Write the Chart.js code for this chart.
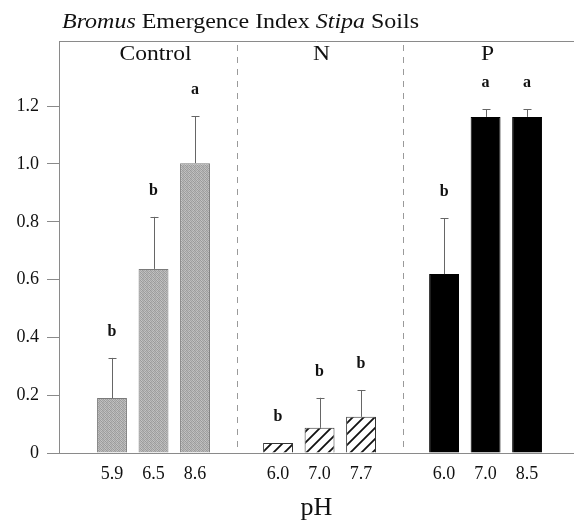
<!DOCTYPE html>
<html>
<head>
<meta charset="utf-8">
<script src="https://cdn.jsdelivr.net/npm/chart.js@4/dist/chart.umd.min.js"></script>
<style>
  html, body { margin: 0; padding: 0; background: #fff; overflow: hidden; }
  #wrap { width: 574px; height: 524px; position: relative; }
</style>
</head>
<body>
<div id="wrap"><canvas id="chart"></canvas></div>
<script>
// data
const groups = ['Control', 'N', 'P'];
const phLabels = [['5.9', '6.5', '8.6'], ['6.0', '7.0', '7.7'], ['6.0', '7.0', '8.5']];
const emergence = [[0.19, 0.637, 1.003], [0.035, 0.087, 0.125], [0.619, 1.163, 1.163]];
const stdErr = [[0.139, 0.18, 0.163], [0, 0.104, 0.093], [0.194, 0.027, 0.027]];
const letters = [['b', 'b', 'a'], ['b', 'b', 'b'], ['b', 'a', 'a']];
const yTicks = [0, 0.2, 0.4, 0.6, 0.8, 1.0, 1.2];

const SERIF = '"Liberation Serif", "Times New Roman", serif';
const AXIS = '#8a8a8a';

// slot index for each bar: one empty slot between groups
const slotOf = (g, i) => g * 4 + i + 1;

// textures
function stipple() {
    const c = document.createElement('canvas');
    c.width = 4; c.height = 4;
    const x = c.getContext('2d');
    const shades = [
        '#9c9c9c', '#c4c4c4', '#a4a4a4', '#b8b8b8',
        '#bcbcbc', '#989898', '#c0c0c0', '#a0a0a0',
        '#a8a8a8', '#c2c2c2', '#9a9a9a', '#b4b4b4',
        '#c0c0c0', '#a2a2a2', '#b6b6b6', '#9e9e9e'
    ];
    shades.forEach((s, k) => { x.fillStyle = s; x.fillRect(k % 4, Math.floor(k / 4), 1, 1); });
    return x.createPattern(c, 'repeat');
}
function hatch() {
    const s = 11;
    const c = document.createElement('canvas');
    c.width = s; c.height = s;
    const x = c.getContext('2d');
    x.fillStyle = '#fff';
    x.fillRect(0, 0, s, s);
    x.strokeStyle = '#111';
    x.lineWidth = 1.8;
    x.beginPath();
    x.moveTo(0, s); x.lineTo(s, 0);
    x.moveTo(-s / 2, s / 2); x.lineTo(s / 2, -s / 2);
    x.moveTo(s / 2, s * 1.5); x.lineTo(s * 1.5, s / 2);
    x.stroke();
    return x.createPattern(c, 'repeat');
}

const fills = [stipple(), hatch(), '#000'];
const borders = ['#7a7a7a', '#333', '#000'];

const datasets = groups.map((name, g) => ({
    label: name,
    data: emergence[g].map((v, i) => ({ x: slotOf(g, i), y: v })),
    backgroundColor: fills[g],
    borderColor: borders[g],
    borderWidth: 1,
    grouped: false,
    barPercentage: 0.72,
    categoryPercentage: 1
}));

const tickText = {};
groups.forEach((_, g) => phLabels[g].forEach((t, i) => { tickText[slotOf(g, i)] = t; }));

// draw text stretched horizontally (the scanned figure's type is wide)
function wideText(ctx, text, x, y, sx) {
    ctx.save();
    ctx.translate(x, y);
    ctx.scale(sx, 1);
    ctx.fillText(text, 0, 0);
    ctx.restore();
}

const decorations = {
    id: 'decorations',
    beforeDatasetsDraw(chart) {
        const { ctx, chartArea, scales } = chart;
        ctx.save();
        // frame top line
        ctx.strokeStyle = AXIS;
        ctx.lineWidth = 1;
        ctx.beginPath();
        ctx.moveTo(chartArea.left, chartArea.top + 0.5);
        ctx.lineTo(chartArea.right, chartArea.top + 0.5);
        ctx.stroke();
        // dashed group separators
        ctx.setLineDash([6, 6]);
        ctx.strokeStyle = '#9a9a9a';
        [4, 8].forEach(v => {
            const px = Math.round(scales.x.getPixelForValue(v)) + 0.5;
            ctx.beginPath();
            ctx.moveTo(px, chartArea.top + 4);
            ctx.lineTo(px, chartArea.bottom);
            ctx.stroke();
        });
        ctx.restore();
    },
    afterDatasetsDraw(chart) {
        const { ctx, chartArea, scales } = chart;
        ctx.save();
        // error bars + letters
        groups.forEach((_, g) => {
            const meta = chart.getDatasetMeta(g);
            meta.data.forEach((bar, i) => {
                const px = Math.round(bar.x) + 0.5;
                const top = scales.y.getPixelForValue(emergence[g][i] + stdErr[g][i]);
                if (stdErr[g][i] > 0) {
                    ctx.strokeStyle = '#666';
                    ctx.lineWidth = 1;
                    ctx.beginPath();
                    ctx.moveTo(px, bar.y);
                    ctx.lineTo(px, top);
                    ctx.moveTo(px - 4, Math.round(top) + 0.5);
                    ctx.lineTo(px + 4, Math.round(top) + 0.5);
                    ctx.stroke();
                }
                ctx.fillStyle = '#111';
                ctx.font = 'bold 16px ' + SERIF;
                ctx.textAlign = 'center';
                ctx.textBaseline = 'middle';
                ctx.fillText(letters[g][i], bar.x, top - 26);
            });
        });
        // group names
        ctx.font = '22px ' + SERIF;
        ctx.fillStyle = '#111';
        ctx.textAlign = 'center';
        ctx.textBaseline = 'alphabetic';
        groups.forEach((name, g) => {
            wideText(ctx, name, scales.x.getPixelForValue(slotOf(g, 1)) + 2, chartArea.top + 19, 1.07);
        });
        // title with italic genus names, stretched to the figure's width
        const parts = [['Bromus', true], [' Emergence Index ', false], ['Stipa', true], [' Soils', false]];
        const fontOf = it => (it ? 'italic ' : '') + '21px ' + SERIF;
        let w = 0;
        parts.forEach(([t, it]) => { ctx.font = fontOf(it); w += ctx.measureText(t).width; });
        const sx = 357 / w;
        let x = 62;
        ctx.textAlign = 'left';
        parts.forEach(([t, it]) => {
            ctx.font = fontOf(it);
            wideText(ctx, t, x, 28, sx);
            x += ctx.measureText(t).width * sx;
        });
        ctx.restore();
    }
};

new Chart(document.getElementById('chart'), {
    type: 'bar',
    data: { datasets },
    options: {
        responsive: true,
        maintainAspectRatio: false,
        animation: false,
        layout: { padding: { top: 41, left: 0, right: 0, bottom: 0 } },
        plugins: { legend: { display: false }, tooltip: { enabled: false } },
        scales: {
            x: {
                type: 'linear',
                offset: false,
                min: -0.277,
                max: 12.13,
                afterBuildTicks: s => { s.ticks = Object.keys(tickText).map(v => ({ value: +v })); },
                afterFit: s => { s.height = 71; },
                grid: { display: true, drawOnChartArea: false, drawTicks: false },
                border: { display: true, color: AXIS, width: 1 },
                ticks: {
                    padding: 10,
                    color: '#111',
                    font: { family: SERIF, size: 18 },
                    callback: v => tickText[v] || ''
                },
                title: {
                    display: true,
                    text: 'pH',
                    color: '#111',
                    font: { family: SERIF, size: 26 },
                    padding: { top: 0, bottom: 0 }
                }
            },
            y: {
                min: 0,
                max: 1.4256,
                afterBuildTicks: s => { s.ticks = yTicks.map(v => ({ value: v })); },
                afterFit: s => { s.width = 59; },
                grid: { drawOnChartArea: false, drawTicks: true, tickLength: 12, color: AXIS },
                border: { display: true, color: AXIS, width: 1 },
                ticks: {
                    padding: 8,
                    color: '#111',
                    font: { family: SERIF, size: 18 },
                    callback: v => (v === 0 ? '0' : v.toFixed(1))
                }
            }
        }
    },
    plugins: [decorations]
});
</script>
</body>
</html>
